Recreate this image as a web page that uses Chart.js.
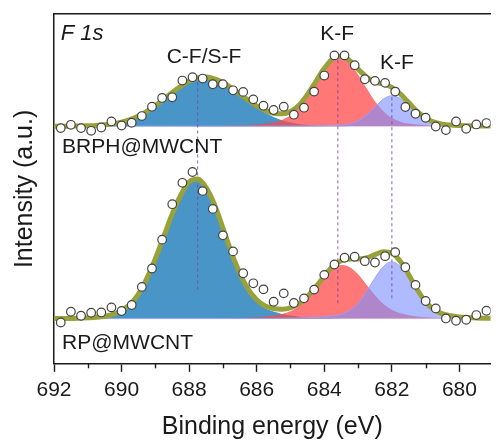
<!DOCTYPE html>
<html>
<head>
<meta charset="utf-8">
<script src="https://cdn.jsdelivr.net/npm/chart.js@4.4.1/dist/chart.umd.min.js"></script>
<style>
  html, body { margin: 0; padding: 0; background: #fff; overflow: hidden; }
  #wrap { width: 496px; height: 443px; }
</style>
</head>
<body>
<div id="wrap"><canvas id="xps" width="496" height="443"></canvas></div>
<script>
// energy grid (eV) of the fitted curves
const fitEnergy = [692.0, 691.75, 691.5, 691.25, 691.0, 690.75, 690.5, 690.25, 690.0, 689.75,
  689.5, 689.25, 689.0, 688.75, 688.5, 688.25, 688.0, 687.75, 687.5, 687.25,
  687.0, 686.75, 686.5, 686.25, 686.0, 685.75, 685.5, 685.25, 685.0, 684.75,
  684.5, 684.25, 684.0, 683.75, 683.5, 683.25, 683.0, 682.75, 682.5, 682.25,
  682.0, 681.75, 681.5, 681.25, 681.0, 680.75, 680.5, 680.25, 680.0, 679.75,
  679.5, 679.25, 679.0];

// BRPH@MWCNT (upper trace, relative to its own baseline)
const topBlue = [0, 0, 0.02, 0.05, 0.1, 0.2, 0.38, 0.69, 1.17, 1.9,
  2.9, 4.24, 5.87, 7.72, 9.64, 11.4, 12.9, 13.8, 14.0, 13.5,
  12.4, 10.85, 9.03, 7.14, 5.37, 3.85, 2.62, 1.7, 1.05, 0.62,
  0.34, 0.18, 0.09, 0.05, 0.02, 0.01, 0, 0, 0, 0,
  0, 0, 0, 0, 0, 0, 0, 0, 0, 0, 0, 0, 0];
const topRed = [0, 0, 0, 0, 0, 0, 0, 0, 0, 0,
  0, 0, 0, 0, 0, 0, 0.01, 0.02, 0.03, 0.05,
  0.08, 0.12, 0.2, 0.3, 0.45, 0.7, 1.05, 1.8, 3.1, 5.3,
  8.6, 12.5, 16.3, 19.05, 19.75, 18.15, 14.8, 10.9, 7.1, 4.3,
  2.4, 1.3, 0.75, 0.45, 0.3, 0.2, 0.14, 0.1, 0.07, 0.05, 0.03, 0.02, 0.01];
const topPurple = [0, 0, 0, 0, 0, 0, 0, 0, 0, 0,
  0, 0, 0, 0, 0, 0, 0, 0, 0, 0,
  0, 0, 0, 0, 0, 0, 0.01, 0.02, 0.03, 0.05,
  0.07, 0.1, 0.14, 0.2, 0.3, 0.65, 1.5, 3.2, 5.48, 7.75,
  8.7, 7.93, 6.0, 3.77, 1.97, 0.95, 0.4, 0.2, 0.12, 0.08, 0.05, 0.03, 0.02];
const topFit = [0, 0, 0.02, 0.05, 0.1, 0.2, 0.38, 0.69, 1.17, 1.9,
  2.9, 4.24, 5.87, 7.72, 9.64, 11.4, 12.91, 13.82, 14.03, 13.55,
  12.48, 10.97, 9.23, 7.44, 5.82, 4.56, 3.68, 3.52, 4.18, 5.97,
  9.01, 12.78, 16.53, 19.3, 20.07, 18.81, 16.3, 14.1, 12.58, 12.05,
  11.1, 9.23, 6.75, 4.22, 2.27, 1.15, 0.54, 0.3, 0.19, 0.13, 0.08, 0.05, 0.03];

// RP@MWCNT (lower trace)
const bottomBlue = [0, 0.02, 0.05, 0.1, 0.2, 0.35, 0.65, 1.2, 2.3, 4.1,
  7.0, 11.5, 17.1, 23.5, 29.9, 35.3, 39.1, 39.9, 37.5, 32.6,
  25.8, 18.8, 12.8, 8.1, 5.0, 3.0, 2.0, 1.3, 0.85, 0.55,
  0.35, 0.22, 0.14, 0.08, 0.05, 0.02, 0, 0, 0, 0,
  0, 0, 0, 0, 0, 0, 0, 0, 0, 0, 0, 0, 0];
const bottomRed = [0, 0, 0, 0, 0, 0, 0, 0, 0, 0,
  0, 0, 0, 0, 0, 0, 0.01, 0.02, 0.03, 0.05,
  0.08, 0.12, 0.17, 0.25, 0.35, 0.55, 0.85, 1.3, 2.1, 3.5,
  5.7, 8.5, 11.5, 14.1, 15.3, 14.7, 12.65, 9.65, 6.7, 4.2,
  2.5, 1.5, 0.95, 0.6, 0.4, 0.25, 0.15, 0.1, 0.06, 0.04, 0.02, 0.01, 0];
const bottomPurple = [0, 0, 0, 0, 0, 0, 0, 0, 0, 0,
  0, 0, 0, 0, 0, 0, 0, 0, 0, 0,
  0, 0, 0, 0.01, 0.02, 0.03, 0.05, 0.08, 0.12, 0.18,
  0.25, 0.35, 0.5, 0.75, 1.2, 2.3, 4.4, 7.7, 11.6, 14.9,
  16.2, 14.9, 11.6, 7.7, 4.4, 2.3, 1.2, 0.7, 0.4, 0.25, 0.15, 0.1, 0.06];
const bottomFit = [0, 0.02, 0.05, 0.1, 0.2, 0.35, 0.65, 1.2, 2.3, 4.1,
  7.0, 11.5, 17.1, 23.5, 29.9, 35.3, 39.11, 39.92, 37.53, 32.65,
  25.88, 18.92, 12.97, 8.36, 5.37, 3.58, 2.9, 2.68, 3.07, 4.23,
  6.3, 9.07, 12.14, 14.93, 16.55, 17.02, 17.05, 17.35, 18.3, 19.1,
  18.7, 16.4, 12.55, 8.3, 4.8, 2.55, 1.35, 0.8, 0.46, 0.29, 0.17, 0.11, 0.06];

// measured points (open circles)
const dataEnergy = [691.8, 691.5, 691.2, 690.9, 690.6, 690.3, 690.0, 689.7, 689.4, 689.1,
  688.8, 688.5, 688.2, 687.9, 687.6, 687.3, 687.0, 686.7, 686.4, 686.1,
  685.8, 685.5, 685.2, 684.9, 684.6, 684.3, 684.0, 683.7, 683.4, 683.1,
  682.8, 682.5, 682.2, 681.9, 681.6, 681.3, 681.0, 680.7, 680.4, 680.1,
  679.8, 679.5, 679.2];
const topData = [-0.55, 0.4, -0.55, -1.32, -0.37, 1.35, 0.2, 0.98, 2.9, 5.57,
  8.07, 8.25, 13.05, 14.0, 13.62, 11.98, 11.98, 10.26, 9.8, 7.67,
  5.86, 4.63, 5.57, 3.28, 5.29, 9.89, 14.48, 20.23, 20.23, 17.44,
  13.42, 12.96, 12.39, 9.89, 5.49, 3.56, 2.41, -0.09, -1.12, 1.35,
  -0.75, 0.49, 0.89];
const bottomData = [-1.12, 1.95, 0.8, 1.67, 1.75, 3.19, 2.16, 3.88, 9.05, 14.31,
  22.56, 32.7, 38.82, 41.9, 36.44, 31.35, 23.79, 19.2, 12.96, 10.09,
  8.36, 4.83, 7.21, 4.45, 5.78, 8.28, 12.5, 15.46, 17.39, 17.67,
  16.41, 16.03, 17.84, 18.99, 14.68, 9.63, 5.03, 2.9, 0.03, -0.63,
  -0.34, 1.01, 2.24];

const topOffset = 55;

// dashed peak-position guides
const guideEnergy = [687.75, 683.6, 682.0];
const guideFrom = [8.3, 4.4, 5.8];
const guideTo = [68.7, 75.3, 64.9];

const tickLabels = [692, 690, 688, 686, 684, 682, 680];

const FONT = '"Liberation Sans", Arial, Helvetica, sans-serif';
const INK = '#1a1a1a';

const notes = [
  { text: 'F 1s', x: 691.8, y: 81.3, align: 'left', italic: true, size: 22 },
  { text: 'C-F/S-F', x: 687.56, y: 74.7, align: 'center' },
  { text: 'K-F', x: 683.62, y: 81.2, align: 'center' },
  { text: 'K-F', x: 681.85, y: 73.1, align: 'center' },
  { text: 'BRPH@MWCNT', x: 691.76, y: 48.9, align: 'left' },
  { text: 'RP@MWCNT', x: 691.76, y: -7.1, align: 'left' }
];

function curve(vals, off) {
  return fitEnergy.map((e, i) => ({ x: e, y: vals[i] + off }));
}
function points(vals, off) {
  return dataEnergy.map((e, i) => ({ x: e, y: vals[i] + off }));
}
function component(vals, off, color, order, edge) {
  return {
    data: curve(vals, off),
    fill: { value: off },
    backgroundColor: color,
    borderColor: edge || 'rgba(0,0,0,0)',
    borderWidth: edge ? 1 : 0,
    pointRadius: 0,
    cubicInterpolationMode: 'monotone',
    order: order
  };
}
function envelope(vals, off) {
  return {
    data: curve(vals, off),
    borderColor: '#98A13A',
    borderWidth: 5,
    fill: false,
    pointRadius: 0,
    cubicInterpolationMode: 'monotone',
    order: 3
  };
}
function circles(vals, off) {
  return {
    data: points(vals, off),
    showLine: false,
    pointRadius: 4.3,
    pointBackgroundColor: '#ffffff',
    pointBorderColor: '#454545',
    pointBorderWidth: 1.2,
    order: 1
  };
}

const BLUE = '#4A95C7';
const RED = 'rgba(255, 72, 72, 0.74)';
const PURPLE = 'rgba(128, 143, 255, 0.62)';
const PURPLE_EDGE = 'rgba(150, 160, 255, 0.9)';

const datasets = [
  component(topBlue, topOffset, BLUE, 9),
  component(topRed, topOffset, RED, 8),
  component(topPurple, topOffset, PURPLE, 7, PURPLE_EDGE),
  component(bottomBlue, 0, BLUE, 9),
  component(bottomRed, 0, RED, 8),
  component(bottomPurple, 0, PURPLE, 7, PURPLE_EDGE)
];
guideEnergy.forEach((e, i) => {
  datasets.push({
    data: [{ x: e, y: guideFrom[i] }, { x: e, y: guideTo[i] }],
    borderColor: 'rgba(115, 65, 165, 0.7)',
    borderWidth: 1.2,
    borderDash: [3, 3],
    pointRadius: 0,
    fill: false,
    order: 5
  });
});
datasets.push(envelope(topFit, topOffset), envelope(bottomFit, 0));
datasets.push(circles(topData, topOffset), circles(bottomData, 0));

const extras = {
  id: 'extras',
  afterDraw(chart) {
    const { ctx, chartArea, scales: { x, y } } = chart;
    ctx.save();
    // short minor ticks at odd energies
    ctx.strokeStyle = INK;
    ctx.lineWidth = 1.4;
    x.ticks.forEach(t => {
      if (t.value % 2 !== 0) {
        const px = Math.round(x.getPixelForValue(t.value)) + 0.5;
        ctx.beginPath();
        ctx.moveTo(px, chartArea.bottom);
        ctx.lineTo(px, chartArea.bottom + 4.5);
        ctx.stroke();
      }
    });
    // annotations
    ctx.fillStyle = INK;
    ctx.textBaseline = 'middle';
    notes.forEach(n => {
      ctx.font = (n.italic ? 'italic ' : '') + (n.size || 21) + 'px ' + FONT;
      ctx.textAlign = n.align;
      ctx.fillText(n.text, x.getPixelForValue(n.x), y.getPixelForValue(n.y));
    });
    ctx.restore();
  }
};

Chart.defaults.font.family = FONT;
Chart.defaults.color = INK;

new Chart(document.getElementById('xps'), {
  type: 'line',
  data: { datasets: datasets },
  options: {
    responsive: false,
    animation: false,
    devicePixelRatio: 1,
    layout: { padding: { left: 10, top: 14, right: 0, bottom: 0 } },
    plugins: { legend: { display: false }, tooltip: { enabled: false } },
    scales: {
      x: {
        type: 'linear',
        position: 'bottom',
        min: 679.08,
        max: 692,
        reverse: true,
        afterBuildTicks: scale => {
          scale.ticks = scale.ticks.filter(t => Math.abs(t.value - Math.round(t.value)) < 1e-6);
        },
        ticks: {
          stepSize: 1,
          includeBounds: false,
          autoSkip: false,
          maxRotation: 0,
          padding: 6,
          font: { size: 21 },
          color: INK,
          callback: v => (tickLabels.includes(v) ? String(v) : '')
        },
        grid: {
          display: true,
          drawOnChartArea: false,
          drawTicks: true,
          tickLength: 8,
          tickWidth: 1.4,
          tickColor: c => (c.tick && c.tick.value % 2 === 0 ? INK : 'rgba(0,0,0,0)')
        },
        border: { display: true, color: INK, width: 1.5 },
        title: {
          display: true,
          text: 'Binding energy (eV)',
          font: { size: 25 },
          color: INK,
          padding: { top: 3, bottom: 1 }
        }
      },
      x2: {
        type: 'linear',
        position: 'top',
        min: 679.08,
        max: 692,
        reverse: true,
        ticks: { display: false },
        grid: { display: false, drawTicks: false, tickLength: 0 },
        border: { display: true, color: INK, width: 1.5 }
      },
      y: {
        type: 'linear',
        position: 'left',
        min: -12.93,
        max: 87.07,
        ticks: { display: false },
        grid: { display: false, drawTicks: false, tickLength: 0 },
        border: { display: true, color: INK, width: 1.5 },
        title: {
          display: true,
          text: 'Intensity (a.u.)',
          font: { size: 25 },
          color: INK,
          padding: { top: 0, bottom: 14 }
        }
      }
    }
  },
  plugins: [extras]
});
</script>
</body>
</html>
